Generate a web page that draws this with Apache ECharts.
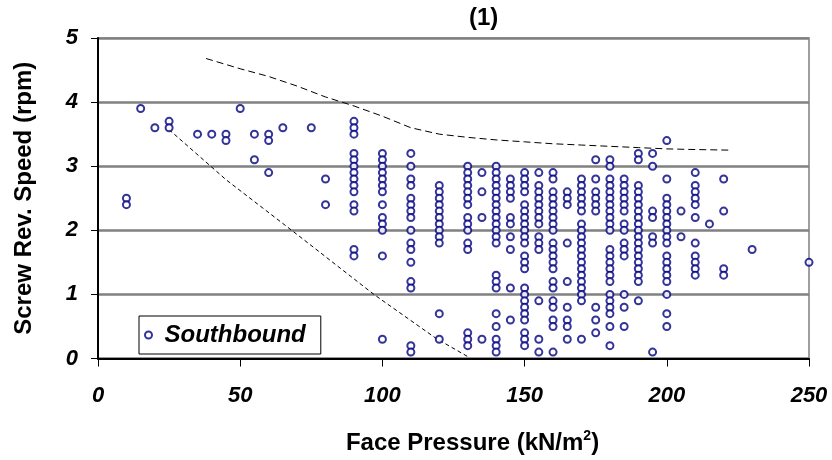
<!DOCTYPE html>
<html>
<head>
<meta charset="utf-8">
<script src="https://cdn.jsdelivr.net/npm/echarts@6/dist/echarts.min.js"></script>
<style>
html,body{margin:0;padding:0;background:#fff;}
#c{width:832px;height:460px;}
</style>
</head>
<body>
<div id="c"></div>
<script>
// Face pressure columns (kN/m2) and the screw speeds observed at each
const pressureCols = [10,15,20,25,35,40,45,50,55,60,65,75,80,90,100,110,120,130,135,140,145,150,155,160,165,170,175,180,185,190,195,200,205,210,215,220,230,250];
const speedCols = [
  [2.5,2.4],
  [3.9],
  [3.6],
  [3.7,3.6],
  [3.5],
  [3.5],
  [3.5,3.4],
  [3.9],
  [3.5,3.1],
  [3.5,3.4,2.9],
  [3.6],
  [3.6],
  [2.8,2.4],
  [3.7,3.6,3.5,3.2,3.1,3.0,2.9,2.8,2.7,2.6,2.4,2.3,1.7,1.6],
  [3.2,3.1,3.0,2.9,2.8,2.7,2.6,2.4,2.2,2.1,2.0,1.6,0.3],
  [3.2,3.0,2.8,2.7,2.5,2.4,2.3,2.2,2.0,1.8,1.7,1.5,1.2,1.1,0.2,0.1],
  [2.7,2.6,2.5,2.4,2.3,2.2,2.1,2.0,1.9,1.8,0.7,0.3],
  [3.0,2.9,2.8,2.7,2.6,2.5,2.4,2.2,2.1,2.0,1.8,1.7,0.4,0.3,0.2],
  [2.9,2.6,2.2,0.3],
  [3.0,2.9,2.8,2.7,2.6,2.5,2.4,2.3,2.2,2.1,2.0,1.9,1.8,1.3,1.2,1.1,0.7,0.5,0.3,0.2,0.1],
  [2.8,2.7,2.6,2.5,2.2,2.1,1.9,1.7,1.1,0.6],
  [2.9,2.8,2.7,2.6,2.4,2.3,2.2,2.1,2.0,1.9,1.8,1.6,1.5,1.4,1.1,1.0,0.9,0.8,0.7,0.6,0.4,0.3,0.2],
  [2.9,2.7,2.6,2.5,2.4,2.3,2.2,2.1,1.9,1.8,1.7,0.9,0.3,0.1],
  [2.9,2.8,2.6,2.5,2.4,2.3,2.2,2.1,2.0,1.8,1.7,1.6,1.5,1.4,1.2,1.1,0.9,0.8,0.6,0.5,0.1],
  [2.6,2.5,2.4,1.8,1.2,0.8,0.6,0.5,0.3],
  [2.8,2.7,2.6,2.5,2.4,2.3,2.1,2.0,1.9,1.8,1.7,1.6,1.5,1.4,1.3,1.2,1.1,1.0,0.9,0.3],
  [3.1,2.8,2.6,2.5,2.4,2.3,0.8,0.6,0.4],
  [3.1,3.0,2.8,2.7,2.6,2.5,2.4,2.3,2.2,2.1,2.0,1.7,1.6,1.5,1.4,1.3,1.2,1.0,0.9,0.8,0.7,0.5,0.2],
  [2.8,2.7,2.6,2.5,2.4,2.3,2.1,2.0,1.8,1.7,1.6,1.0,0.8,0.5],
  [3.2,3.1,2.7,2.6,2.5,2.4,2.3,2.2,2.1,2.0,1.9,1.8,1.7,1.6,1.5,1.4,1.3,1.2,0.9],
  [3.2,3.0,2.3,2.2,1.9,1.8,0.1],
  [3.4,2.8,2.5,2.4,2.3,2.2,2.1,2.0,1.9,1.8,1.6,1.5,1.4,1.3,1.2,1.0,0.7,0.5],
  [2.3,1.9],
  [2.9,2.7,2.6,2.5,2.4,2.2,1.8,1.6,1.5,1.4,1.3],
  [2.1],
  [2.8,2.3,1.4,1.3],
  [1.7],
  [1.5]
];
// Upper envelope (dashed)
const upperX = [38,50,60,70,80,90,100,110,120,130,140,150,160,170,180,190,200,210,223];
const upperY = [4.68,4.52,4.4,4.25,4.08,3.94,3.78,3.6,3.5,3.45,3.41,3.38,3.35,3.33,3.31,3.29,3.27,3.26,3.25];
// Lower envelope (dashed)
const lowerX = [25,45,64,71,97,119,130];
const lowerY = [3.57,2.79,2.14,1.9,1.0,0.31,0.03];
// Axis ticks
const xTicks = [0,50,100,150,200,250];
const yTicks = [0,1,2,3,4,5];

const FONT = "'Liberation Sans', Arial, sans-serif";
const scatterData = [];
pressureCols.forEach((p, i) => speedCols[i].forEach(s => scatterData.push([p, s])));
const upperData = upperX.map((x, i) => [x, upperY[i]]);
const lowerData = lowerX.map((x, i) => [x, lowerY[i]]);

const chart = echarts.init(document.getElementById('c'), null, {renderer: 'canvas'});
chart.setOption({
  backgroundColor: '#ffffff',
  animation: false,
  graphic: [{
    type: 'text', left: 469, top: 6,
    style: {text: '(1)', font: 'bold 24px ' + FONT, fill: '#000'}
  }],
  grid: {left: 98, right: 23, top: 38, bottom: 100, show: true, borderColor: '#808080', borderWidth: 1.5, backgroundColor: 'transparent'},
  legend: {
    data: ['Southbound'],
    left: 139, top: 316,
    orient: 'horizontal',
    padding: [7, 15, 7, 5],
    backgroundColor: '#fff',
    borderColor: '#000', borderWidth: 1,
    itemWidth: 22, itemHeight: 7,
    icon: 'emptyCircle',
    selectedMode: false,
    textStyle: {fontFamily: FONT, fontSize: 24, fontWeight: 'bold', fontStyle: 'italic', color: '#000'}
  },
  xAxis: {
    type: 'value', min: xTicks[0], max: xTicks[xTicks.length - 1], interval: 50,
    name: 'Face Pressure (kN/m{sup|2})',
    nameLocation: 'middle', nameGap: 71,
    nameTextStyle: {
      fontFamily: FONT, fontSize: 24, fontWeight: 'bold', color: '#000', padding: [0, 0, 0, 38],
      rich: {sup: {fontFamily: FONT, fontSize: 14, fontWeight: 'bold', color: '#000', padding: [0, 0, 13, 0]}}
    },
    axisLine: {show: true, onZero: false, lineStyle: {color: '#000', width: 2}},
    axisTick: {show: true, inside: false, length: 8, lineStyle: {color: '#000', width: 1}},
    axisLabel: {margin: 26, fontFamily: FONT, fontSize: 22, fontWeight: 'bold', fontStyle: 'italic', color: '#000'},
    splitLine: {show: false}
  },
  yAxis: {
    type: 'value', min: yTicks[0], max: yTicks[yTicks.length - 1], interval: 1,
    name: 'Screw Rev. Speed (rpm)',
    nameLocation: 'middle', nameGap: 62, nameRotate: 90,
    nameTextStyle: {fontFamily: FONT, fontSize: 24, fontWeight: 'bold', color: '#000'},
    axisLine: {show: true, onZero: false, lineStyle: {color: '#000', width: 2}},
    axisTick: {show: true, inside: false, length: 7, lineStyle: {color: '#000', width: 1}},
    axisLabel: {margin: 20, fontFamily: FONT, fontSize: 22, fontWeight: 'bold', fontStyle: 'italic', color: '#000'},
    splitLine: {show: true, lineStyle: {color: '#808080', width: 2.5}}
  },
  series: [
    {
      name: 'Upper', type: 'line', data: upperData, showSymbol: false, symbol: 'none', silent: true, z: 3,
      lineStyle: {color: '#000', width: 1, type: [7, 4]}
    },
    {
      name: 'Lower', type: 'line', data: lowerData, showSymbol: false, symbol: 'none', silent: true, z: 3,
      lineStyle: {color: '#000', width: 1, type: [4, 3]}
    },
    {
      name: 'Southbound', type: 'scatter', data: scatterData,
      symbol: 'emptyCircle', symbolSize: 7, z: 4,
      itemStyle: {color: '#000080', borderColor: '#000080', borderWidth: 1.4}
    }
  ]
});
</script>
</body>
</html>
